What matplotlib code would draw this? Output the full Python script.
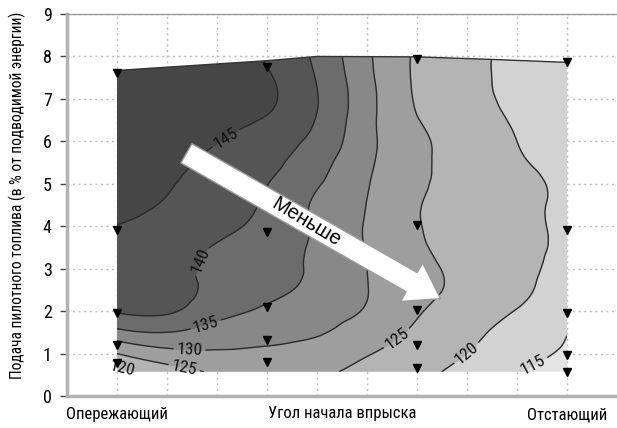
import numpy as np
import matplotlib
matplotlib.use("Agg")
import matplotlib.pyplot as plt
import matplotlib.tri as mtri
from matplotlib.patches import Polygon, FancyArrowPatch
from matplotlib import font_manager as fm

# pick a narrow sans face if one is installed
_avail = {f.name for f in fm.fontManager.ttflist}
_narrow = None
for cand in ['Liberation Sans Narrow', 'Roboto Condensed', 'Arial Narrow',
             'Open Sans Condensed', 'DejaVu Sans Condensed', 'Noto Sans Condensed']:
    if cand in _avail:
        _narrow = cand
        break
_stretch = 'normal'
if _narrow is None:
    for f in fm.fontManager.ttflist:
        if f.name in ('DejaVu Sans', 'Noto Sans', 'Roboto', 'Open Sans') and \
                str(f.stretch) in ('condensed', 'semi-condensed', '75', '87.5'):
            _narrow = f.name
            _stretch = 'condensed'
            break
if _narrow is None:
    _narrow = 'Liberation Sans'
plt.rcParams['font.family'] = [_narrow, 'Liberation Sans', 'DejaVu Sans']
plt.rcParams['font.stretch'] = _stretch
_scale = 1.0 if _narrow != 'Liberation Sans' else 0.93

# ---- data ----
grid_x = [1, 2, 3, 4, 5, 6, 7, 8, 9, 10]
grid_y = [0.57, 1.0, 1.5, 2.0, 2.5, 3.0, 3.5, 4.0, 4.5, 5.0, 5.5, 6.0, 6.5, 7.0, 7.5, 8.0]
# energy consumption field, one row per grid_y value, columns follow grid_x
z_rows = [
    [118.5, 122.5, 125.7, 126.4, 125.6, 123.7, 121.3, 118.5, 115.2, 112.5],
    [125.0, 128.4, 129.4, 128.8, 127.5, 125.3, 122.6, 120.0, 117.0, 114.4],
    [133.5, 135.0, 132.8, 132.0, 130.5, 127.6, 124.2, 121.25, 118.2, 115.1],
    [140.3, 140.5, 137.0, 134.2, 132.0, 129.6, 125.5, 122.6, 119.8, 116.3],
    [141.5, 141.1, 138.9, 136.3, 133.5, 130.1, 126.7, 123.6, 121.0, 117.6],
    [142.6, 141.4, 139.0, 136.8, 134.1, 130.0, 126.5, 123.6, 121.2, 118.6],
    [143.7, 142.0, 139.6, 137.1, 134.2, 129.7, 125.7, 123.3, 121.5, 118.9],
    [144.9, 143.0, 141.3, 138.4, 134.3, 129.6, 125.3, 123.3, 121.5, 118.9],
    [147.0, 144.5, 142.1, 139.3, 134.2, 129.9, 125.3, 123.3, 121.5, 118.9],
    [148.0, 145.5, 142.8, 140.1, 135.5, 130.3, 125.8, 123.3, 121.5, 118.9],
    [148.5, 146.5, 143.8, 141.2, 136.9, 130.9, 126.0, 123.1, 120.6, 118.2],
    [149.0, 147.5, 145.2, 142.3, 138.5, 131.4, 126.0, 122.7, 120.0, 118.0],
    [149.5, 148.5, 147.0, 144.5, 139.7, 131.5, 125.2, 122.2, 119.5, 117.7],
    [150.0, 149.0, 148.0, 145.8, 140.2, 131.7, 124.6, 121.7, 118.8, 117.5],
    [150.0, 149.0, 147.8, 145.5, 139.7, 131.3, 124.4, 121.4, 118.6, 117.2],
    [150.0, 149.0, 147.5, 144.5, 138.9, 130.9, 124.4, 121.4, 118.6, 117.0],
]
# upper edge of the measured area
top_x = [1, 4, 5, 7, 8.5, 10]
top_y = [7.67, 7.9, 8.0, 7.99, 7.93, 7.86]
bottom_y = 0.57

levels = [100, 115, 120, 125, 130, 135, 140, 145, 160]
line_levels = [115, 120, 125, 130, 135, 140, 145]
band_colors = ['#e4e4e4', '#d2d2d2', '#b4b4b4', '#9e9e9e', '#888888',
               '#6c6c6c', '#555555', '#464646']

# measurement points
pts_x = [1, 1, 1, 1, 1, 4, 4, 4, 4, 4, 7, 7, 7, 7, 7, 10, 10, 10, 10, 10]
pts_y = [7.62, 3.9, 1.95, 1.2, 0.78,
         7.76, 3.87, 2.1, 1.32, 0.8,
         7.95, 4.03, 2.03, 1.2, 0.66,
         7.86, 3.9, 1.95, 0.97, 0.57]

label_pos = [(3.2, 6.03), (2.6, 3.2), (2.75, 1.78), (2.45, 1.08), (2.35, 0.7),
             (1.12, 0.68), (6.62, 1.32), (8.0, 1.0), (9.3, 0.78)]

arrow_start = (2.34, 5.75)
arrow_end = (7.52, 2.26)
arrow_text = 'Меньше'

x_tick_pos = [1, 2, 3, 4, 5, 6, 7, 8, 9, 10]
x_tick_labels = ['Опережающий', '', '', '', '', '', '', '', '', 'Отстающий']
y_ticks = list(range(0, 10))
x_label = 'Угол начала впрыска'
y_label = 'Подача пилотного топлива (в % от подводимой энергии)'

# ---- figure ----
fig = plt.figure(figsize=(6.17, 4.28), dpi=100)
ax = fig.add_axes([67 / 617, 32 / 428, 550 / 617, 382 / 428])
ax.set_xlim(0, 11)
ax.set_ylim(0, 9)

X, Y = np.meshgrid(grid_x, grid_y)
Z = np.array(z_rows)
tri = mtri.Triangulation(X.ravel(), Y.ravel())
refiner = mtri.UniformTriRefiner(tri)
interp = mtri.CubicTriInterpolator(tri, Z.ravel(), kind='min_E')
tri_f, z_f = refiner.refine_field(Z.ravel(), triinterpolator=interp, subdiv=4)

clip_verts = [(top_x[0], bottom_y), (top_x[-1], bottom_y)] + list(zip(top_x[::-1], top_y[::-1]))
clip = Polygon(clip_verts, closed=True, transform=ax.transData, facecolor='none', edgecolor='none')
ax.add_patch(clip)

cf = ax.tricontourf(tri_f, z_f, levels=levels, colors=band_colors, zorder=1)
cf.set_clip_path(clip)
cl = ax.tricontour(tri_f, z_f, levels=line_levels, colors='#2a2a2a', linewidths=1.0, zorder=2)
cl.set_clip_path(clip)
ax.clabel(cl, manual=label_pos, inline=True, fmt='%d', fontsize=12.5 * _scale,
          colors='#111111', inline_spacing=3)

ax.plot(top_x, top_y, color='#333333', lw=1.0, zorder=3)
ax.plot(pts_x, pts_y, linestyle='none', marker='v', color='#000000', markersize=6, zorder=4)

arr = FancyArrowPatch(arrow_start, arrow_end,
                      arrowstyle='simple,head_width=32,head_length=24,tail_width=16',
                      mutation_scale=1, facecolor='white', edgecolor='#9a9a9a', lw=1.0, zorder=5)
ax.add_patch(arr)
mx = (arrow_start[0] + arrow_end[0]) / 2 - 0.15
my = (arrow_start[1] + arrow_end[1]) / 2 + 0.1
ax.text(mx, my, arrow_text, rotation=-31, rotation_mode='anchor', ha='center', va='center',
        fontsize=14.5, family=['Liberation Sans', 'DejaVu Sans'], stretch='normal',
        color='black', zorder=6)

# axes styling
ax.set_xticks(x_tick_pos)
ax.set_xticklabels(x_tick_labels, fontsize=12 * _scale)
ax.set_yticks(y_ticks)
ax.set_yticklabels([str(v) for v in y_ticks], fontsize=13 * _scale)
ax.tick_params(axis='x', length=0, pad=8)
ax.tick_params(axis='y', length=5, width=1, color='#444444', pad=6)
ax.grid(True, color='#bdbdbd', linestyle=(0, (1.5, 2.5)), linewidth=1.0, zorder=0)
ax.set_axisbelow(True)

ax.spines['right'].set_visible(False)
ax.spines['top'].set_color('#9a9a9a')
ax.spines['top'].set_linewidth(1.0)
ax.spines['left'].set_color('#b3b3b3')
ax.spines['left'].set_linewidth(2.5)
ax.spines['bottom'].set_color('#b3b3b3')
ax.spines['bottom'].set_linewidth(2.5)

ax.set_xlabel(x_label, fontsize=12 * _scale)
ax.xaxis.set_label_coords(0.5, -0.026)
ax.set_ylabel(y_label, fontsize=11.2 * _scale if _narrow != 'Liberation Sans' else 10.5)
ax.yaxis.set_label_coords(-0.074, 0.524)

fig.savefig('out.png', dpi=100)
